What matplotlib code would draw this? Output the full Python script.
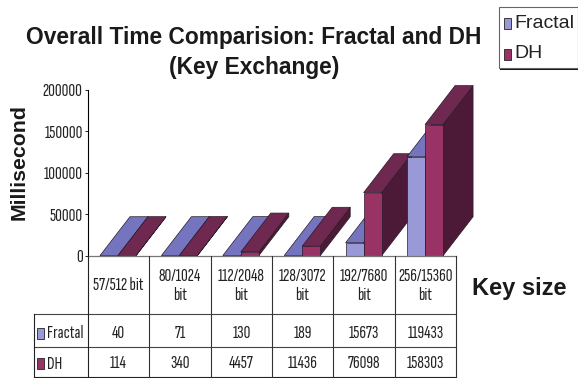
import matplotlib
matplotlib.use('Agg')
import matplotlib.pyplot as plt
from matplotlib.patches import Polygon, Rectangle

categories = ['57/512 bit', '80/1024\nbit', '112/2048\nbit', '128/3072\nbit', '192/7680\nbit', '256/15360\nbit']
fractal = [40, 71, 130, 189, 15673, 119433]
dh = [114, 340, 4457, 11436, 76098, 158303]
yticks = [0, 50000, 100000, 150000, 200000]

W, H = 578, 378
BOLD = 'Liberation Sans'
NARROW = ['Sofia Sans Extra Condensed', 'Liberation Sans']
NARROW_SIZE = 13.5

# column and row edges of the data table, in pixels
col_x = [87.5, 149, 210.7, 272, 332.7, 394.7, 456]
row_y = [255.7, 314.3, 347, 377]
table_left = 33.5

bar_w = 18 / 61.4
depth_x = 30 / 61.4
depth_y = 47000
edge = '#2a1a2a'

series = [
    (fractal, -bar_w, '#9999d8', '#7474bf', '#4f4f8c'),
    (dh, 0, '#993366', '#6f2850', '#4c1a36'),
]

fig = plt.figure(figsize=(W / 100, H / 100), dpi=100)
ax = fig.add_axes([col_x[0] / W, 1 - row_y[0] / H, (col_x[-1] - col_x[0]) / W, (row_y[0] - 90) / H])
ax.set_xlim(0, len(categories))
ax.set_ylim(0, 200000)
ax.patch.set_alpha(0)
for s in ['top', 'right', 'bottom']:
    ax.spines[s].set_visible(False)
ax.spines['left'].set_linewidth(0.8)
ax.set_xticks([])
ax.set_yticks(yticks)
ax.tick_params(axis='y', length=2, width=0.6, pad=1.5)
for lab in ax.get_yticklabels():
    lab.set_fontfamily(NARROW)
    lab.set_fontsize(NARROW_SIZE)
    lab.set_color('#222222')

# 3D looking bars, side and top faces are offset copies of the front
for i in range(len(categories)):
    cx = i + 0.5 - 0.004
    for vals, off, front, top, side in series:
        v = vals[i]
        x0 = cx + off
        x1 = x0 + bar_w
        pts_side = [(x1, 0), (x1 + depth_x, depth_y), (x1 + depth_x, v + depth_y), (x1, v)]
        pts_top = [(x0, v), (x1, v), (x1 + depth_x, v + depth_y), (x0 + depth_x, v + depth_y)]
        ax.add_patch(Polygon(pts_side, fc=side, ec=edge, lw=0.5, clip_on=False))
        ax.add_patch(Polygon(pts_top, fc=top, ec=edge, lw=0.5, clip_on=False))
        ax.add_patch(Rectangle((x0, 0), bar_w, v, fc=front, ec=edge, lw=0.5, clip_on=False))

# overlay in pixel coordinates for the table, titles and legend
ov = fig.add_axes([0, 0, 1, 1])
ov.set_xlim(0, W)
ov.set_ylim(H, 0)
ov.axis('off')
ov.patch.set_alpha(0)

ov.plot([col_x[0], col_x[-1]], [row_y[0], row_y[0]], color='#777777', lw=0.9)
ov.plot([table_left, col_x[-1]], [row_y[1], row_y[1]], color='#444444', lw=0.8)
ov.plot([table_left, col_x[-1]], [row_y[2], row_y[2]], color='#444444', lw=0.8)
ov.plot([table_left, col_x[-1]], [row_y[3], row_y[3]], color='#222222', lw=0.8)
ov.plot([table_left, table_left], [row_y[1], row_y[3]], color='#222222', lw=0.8)
ov.plot([col_x[0], col_x[0]], [row_y[0], row_y[3]], color='#222222', lw=0.8)
for x in col_x[1:]:
    ov.plot([x, x], [row_y[0], row_y[3]], color='#333333', lw=0.8)

for i, cat in enumerate(categories):
    cx = (col_x[i] + col_x[i + 1]) / 2
    ov.text(cx, 285.5, cat, ha='center', va='center', family=NARROW, fontsize=NARROW_SIZE, color='#222222', linespacing=1.3)
    ov.text(cx, 333, str(fractal[i]), ha='center', va='center', family=NARROW, fontsize=NARROW_SIZE, color='#222222')
    ov.text(cx, 363, str(dh[i]), ha='center', va='center', family=NARROW, fontsize=NARROW_SIZE, color='#222222')

ov.add_patch(Rectangle((36.5, 327.5), 7, 11, fc='#9999d8', ec='#222222', lw=0.6))
ov.add_patch(Rectangle((36.5, 357.5), 7, 11, fc='#993366', ec='#222222', lw=0.6))
ov.text(47, 333, 'Fractal', ha='left', va='center', family=NARROW, fontsize=NARROW_SIZE, color='#222222')
ov.text(47, 364, 'DH', ha='left', va='center', family=NARROW, fontsize=NARROW_SIZE, color='#222222')

ov.text(254, 52.5, 'Overall Time Comparision: Fractal and DH\n(Key Exchange)', ha='center', va='center',
        family=BOLD, weight='bold', fontsize=16.4, color='#1a1a1a', linespacing=1.38)
ov.text(19, 161.5, 'Millisecond', rotation=90, ha='center', va='center', family=BOLD, weight='bold',
        fontsize=15.3, color='#1a1a1a')
ov.text(519.5, 288, 'Key size', ha='center', va='center', family=BOLD, weight='bold', fontsize=17, color='#1a1a1a')

# legend box with its drop shadow
ov.add_patch(Rectangle((500, 9), 78, 61, fc='#111111', ec='none', clip_on=False))
ov.add_patch(Rectangle((499, 6.5), 79, 61, fc='white', ec='#666666', lw=0.8, clip_on=False))
ov.add_patch(Rectangle((503.5, 18), 7, 11, fc='#9999d8', ec='#222222', lw=0.6))
ov.add_patch(Rectangle((503.5, 49), 7, 11, fc='#993366', ec='#222222', lw=0.6))
ov.text(514, 24, 'Fractal', ha='left', va='center', family=BOLD, fontsize=14, color='#222222')
ov.text(514, 54, 'DH', ha='left', va='center', family=BOLD, fontsize=14, color='#222222')

fig.savefig('out.png', dpi=100)
